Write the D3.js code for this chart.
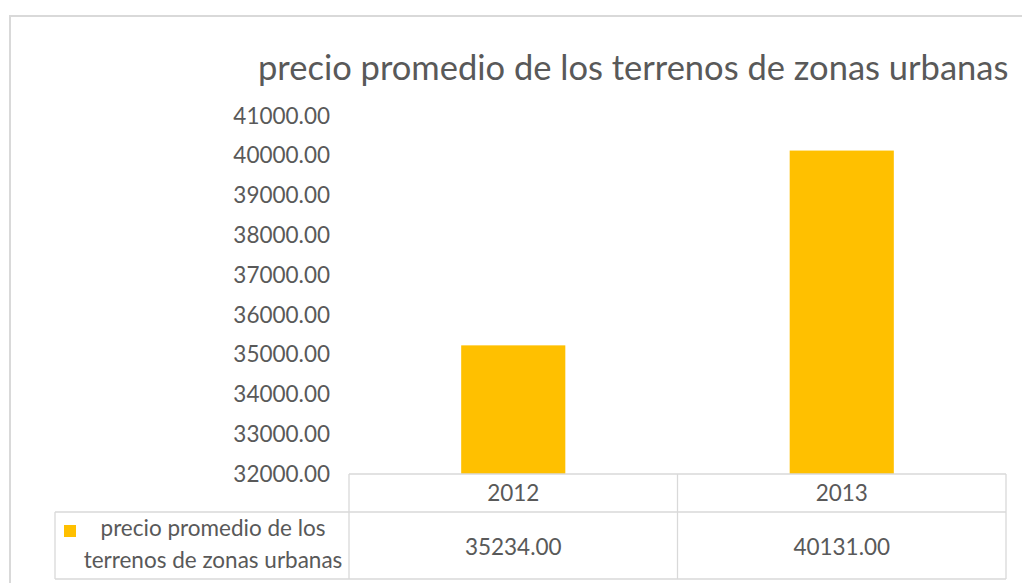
<!DOCTYPE html>
<html>
<head>
<meta charset="utf-8">
<script src="https://cdn.jsdelivr.net/npm/d3@7"></script>
<style>
  body { margin: 0; background: #fff; }
  text { font-family: Lato, "Open Sans", sans-serif; fill: #595959; }
</style>
</head>
<body>
<svg width="1022" height="583"></svg>
<script>
var years = ["2012", "2013"];
var precios = [35234, 40131];
var serieNombre = ["precio promedio de los", "terrenos de zonas urbanas"];
var yTicks = [32000, 33000, 34000, 35000, 36000, 37000, 38000, 39000, 40000, 41000];
var titulo = "precio promedio de los terrenos de zonas urbanas";

var svg = d3.select("svg");
var gridColor = "#d9d9d9";
var fs = 22.5;

// frame of the chart (top + left edge visible)
svg.append("path")
    .attr("d", "M10,583 V16 H1022")
    .attr("fill", "none")
    .attr("stroke", gridColor)
    .attr("stroke-width", 2);

svg.append("text")
    .attr("x", 258)
    .attr("y", 80)
    .attr("font-size", 34.5)
    .text(titulo);

var plotLeft = 349, plotRight = 1006, plotTop = 116, plotBottom = 474;

var x = d3.scaleBand()
    .domain(years)
    .range([plotLeft, plotRight])
    .paddingInner(0.683)
    .paddingOuter(0.3415);

var xCell = d3.scaleBand().domain(years).range([plotLeft, plotRight]);

var y = d3.scaleLinear()
    .domain([32000, 41000])
    .range([plotBottom, plotTop]);

// y axis, labels only
var yAxis = d3.axisLeft(y)
    .tickValues(yTicks)
    .tickFormat(d3.format(".2f"))
    .tickSize(0)
    .tickPadding(19);

svg.append("g")
    .attr("transform", "translate(" + plotLeft + ",0)")
    .call(yAxis)
    .call(g => g.select(".domain").remove())
    .selectAll("text")
    .attr("font-size", fs)
    .attr("font-family", "Lato, 'Open Sans', sans-serif")
    .attr("fill", "#595959");

svg.selectAll("rect.bar")
    .data(years)
    .enter().append("rect")
    .attr("class", "bar")
    .attr("x", d => x(d))
    .attr("y", (d, i) => y(precios[i]))
    .attr("width", x.bandwidth())
    .attr("height", (d, i) => plotBottom - y(precios[i]))
    .attr("fill", "#ffc000");

// data table
var row1 = 512, row2 = 579, legLeft = 55;
var lines = [
    [plotLeft, plotBottom, plotRight, plotBottom],
    [legLeft, row1, plotRight, row1],
    [legLeft, row2, plotRight, row2],
    [legLeft, row1, legLeft, row2],
    [plotLeft, plotBottom, plotLeft, row2],
    [xCell("2013"), plotBottom, xCell("2013"), row2],
    [plotRight, plotBottom, plotRight, row2]
];
svg.append("g").selectAll("line")
    .data(lines)
    .enter().append("line")
    .attr("x1", d => d[0]).attr("y1", d => d[1])
    .attr("x2", d => d[2]).attr("y2", d => d[3])
    .attr("stroke", gridColor)
    .attr("stroke-width", 1.3);

svg.append("g").selectAll("text")
    .data(years)
    .enter().append("text")
    .attr("x", d => xCell(d) + xCell.bandwidth() / 2)
    .attr("y", 501)
    .attr("text-anchor", "middle")
    .attr("font-size", fs)
    .text(d => d);

svg.append("g").selectAll("text")
    .data(precios)
    .enter().append("text")
    .attr("x", (d, i) => xCell(years[i]) + xCell.bandwidth() / 2)
    .attr("y", 555)
    .attr("text-anchor", "middle")
    .attr("font-size", fs)
    .text(d => d3.format(".2f")(d));

// legend key + series name
svg.append("rect")
    .attr("x", 64)
    .attr("y", 525)
    .attr("width", 12)
    .attr("height", 12)
    .attr("fill", "#ffc000");

svg.append("text")
    .attr("x", 213)
    .attr("y", 536)
    .attr("text-anchor", "middle")
    .attr("font-size", fs)
    .text(serieNombre[0]);

svg.append("text")
    .attr("x", 213)
    .attr("y", 568)
    .attr("text-anchor", "middle")
    .attr("font-size", fs)
    .text(serieNombre[1]);
</script>
</body>
</html>
